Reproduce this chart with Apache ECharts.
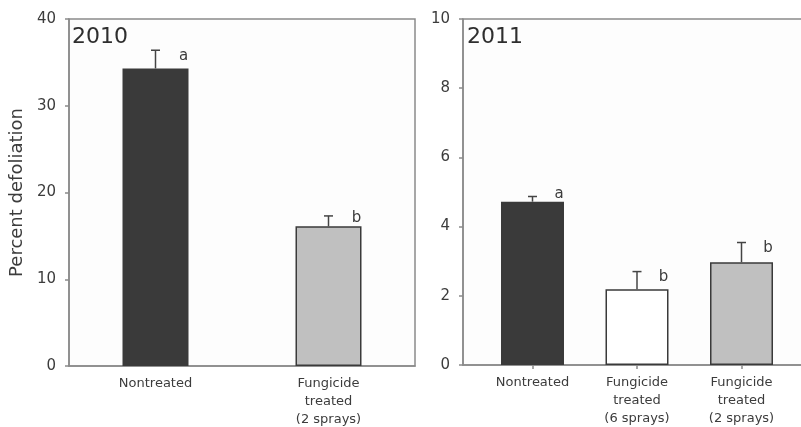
<!DOCTYPE html>
<html>
<head>
<meta charset="utf-8">
<script src="https://cdn.jsdelivr.net/npm/echarts@6/dist/echarts.min.js"></script>
<style>
  html, body { margin: 0; padding: 0; background: #fff; }
  #chart { width: 801px; height: 427px; }
</style>
</head>
<body>
<div id="chart"></div>
<script>
// 2010 season
var cats2010 = ['Nontreated', 'Fungicide\ntreated\n(2 sprays)'];
var mean2010 = [34.3, 16.1];
var err2010 = [2.1, 1.2];
var letters2010 = ['a', 'b'];

// 2011 season
var cats2011 = ['Nontreated', 'Fungicide\ntreated\n(6 sprays)', 'Fungicide\ntreated\n(2 sprays)'];
var mean2011 = [4.72, 2.19, 2.97];
var err2011 = [0.15, 0.51, 0.57];
var letters2011 = ['a', 'b', 'b'];

var colors2010 = ['#3a3a3a', '#c0c0c0'];
var colors2011 = ['#3a3a3a', '#ffffff', '#c0c0c0'];

var FONT = 'DejaVu Sans';
var axisGray = '#8a8a8a';
var textGray = '#3c3c3c';

function errRender(letterDx) {
  return function (params, api) {
    var x = api.value(0);
    var top = api.coord([x, api.value(1)]);
    var hi = api.coord([x, api.value(2)]);
    var st = { stroke: '#444', lineWidth: 1.5 };
    // letter sits beside the cap, but never on top of the bar
    var ly = Math.min(hi[1] + 6, top[1] - 8);
    return {
      type: 'group',
      children: [
        { type: 'line', shape: { x1: top[0], y1: top[1], x2: hi[0], y2: hi[1] }, style: st },
        { type: 'line', shape: { x1: hi[0] - 4.5, y1: hi[1], x2: hi[0] + 4.5, y2: hi[1] }, style: st },
        { type: 'text', x: hi[0] + letterDx, y: ly,
          style: { text: api.value(3), fill: textGray, font: '15px "' + FONT + '"', align: 'center', verticalAlign: 'middle' } }
      ]
    };
  };
}

var chart = echarts.init(document.getElementById('chart'));

var yAxisCommon = {
  type: 'value',
  axisLine: { show: true, onZero: false, lineStyle: { color: axisGray, width: 1.5 } },
  axisTick: { show: true, inside: false, length: 4, lineStyle: { color: axisGray, width: 1.5 } },
  axisLabel: { color: textGray, fontSize: 15, fontFamily: FONT, margin: 13 },
  splitLine: { show: false }
};

chart.setOption({
  animation: false,
  backgroundColor: '#fff',
  title: [
    { text: '2010', left: 72, top: 26, padding: 0,
      textStyle: { fontSize: 22, fontWeight: 'normal', color: '#2e2e2e', fontFamily: FONT } },
    { text: '2011', left: 467, top: 26, padding: 0,
      textStyle: { fontSize: 22, fontWeight: 'normal', color: '#2e2e2e', fontFamily: FONT } }
  ],
  grid: [
    { left: 69, width: 346, top: 19, height: 347, outerBoundsMode: 'none',
      show: true, borderColor: axisGray, borderWidth: 1.5, backgroundColor: '#fdfdfd' },
    { left: 463, width: 348, top: 19, height: 346, outerBoundsMode: 'none',
      show: true, borderColor: axisGray, borderWidth: 1.5, backgroundColor: '#fdfdfd' }
  ],
  xAxis: [
    {
      gridIndex: 0, type: 'category', data: cats2010,
      axisLine: { lineStyle: { color: axisGray, width: 1.5 } },
      axisTick: { alignWithLabel: true, length: 4, lineStyle: { color: axisGray, width: 1.5 } },
      axisLabel: { color: textGray, fontSize: 13, fontFamily: FONT, margin: 9, lineHeight: 18, interval: 0 }
    },
    {
      gridIndex: 1, type: 'value', min: -0.665, max: 2.665,
      axisLine: { onZero: false, lineStyle: { color: axisGray, width: 1.5 } },
      axisTick: { show: true, customValues: [0, 1, 2], length: 4, lineStyle: { color: axisGray, width: 1.5 } },
      axisLabel: {
        customValues: [0, 1, 2], color: textGray, fontSize: 13, fontFamily: FONT, margin: 9, lineHeight: 18,
        formatter: function (v) { return cats2011[Math.round(v)]; }
      },
      splitLine: { show: false }
    }
  ],
  yAxis: [
    Object.assign({}, yAxisCommon, {
      gridIndex: 0, min: 0, max: 40, interval: 10,
      name: 'Percent defoliation', nameLocation: 'middle', nameGap: 43,
      nameTextStyle: { fontSize: 18, color: textGray, fontFamily: FONT }
    }),
    Object.assign({}, yAxisCommon, { gridIndex: 1, min: 0, max: 10, interval: 2 })
  ],
  series: [
    {
      type: 'bar', xAxisIndex: 0, yAxisIndex: 0, barWidth: 66,
      data: mean2010.map(function (v, i) {
        return { value: v, itemStyle: { color: colors2010[i], borderColor: '#3a3a3a', borderWidth: 1.5 } };
      })
    },
    {
      type: 'custom', xAxisIndex: 0, yAxisIndex: 0, renderItem: errRender(28), z: 5,
      data: mean2010.map(function (v, i) { return [i, v, v + err2010[i], letters2010[i]]; })
    },
    {
      type: 'bar', xAxisIndex: 1, yAxisIndex: 1, barWidth: 63,
      data: mean2011.map(function (v, i) {
        return { value: [i, v], itemStyle: { color: colors2011[i], borderColor: '#3a3a3a', borderWidth: 1.5 } };
      })
    },
    {
      type: 'custom', xAxisIndex: 1, yAxisIndex: 1, renderItem: errRender(26.5), z: 5,
      data: mean2011.map(function (v, i) { return [i, v, v + err2011[i], letters2011[i]]; })
    }
  ]
});
</script>
</body>
</html>
